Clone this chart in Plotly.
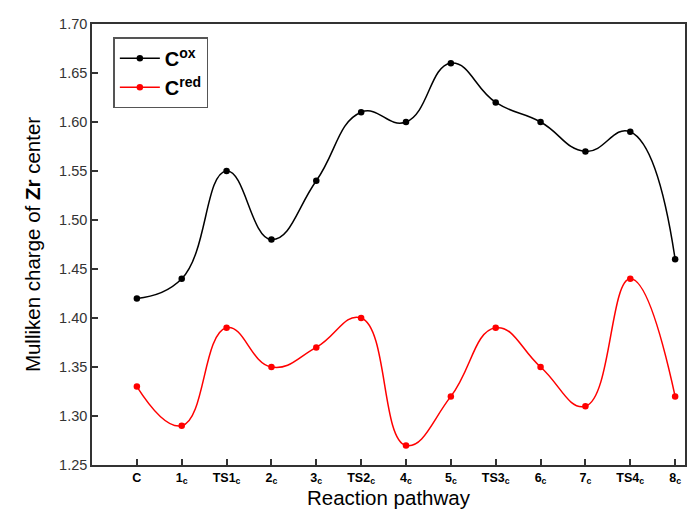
import plotly.graph_objects as go

categories = ["C", "1<sub>c</sub>", "TS1<sub>c</sub>", "2<sub>c</sub>", "3<sub>c</sub>", "TS2<sub>c</sub>",
              "4<sub>c</sub>", "5<sub>c</sub>", "TS3<sub>c</sub>", "6<sub>c</sub>", "7<sub>c</sub>",
              "TS4<sub>c</sub>", "8<sub>c</sub>"]
positions = list(range(1, len(categories) + 1))
c_ox = [1.42, 1.44, 1.55, 1.48, 1.54, 1.61, 1.60, 1.66, 1.62, 1.60, 1.57, 1.59, 1.46]
c_red = [1.33, 1.29, 1.39, 1.35, 1.37, 1.40, 1.27, 1.32, 1.39, 1.35, 1.31, 1.44, 1.32]
y_ticks = [1.25, 1.30, 1.35, 1.40, 1.45, 1.50, 1.55, 1.60, 1.65, 1.70]

fig = go.Figure()
fig.add_trace(go.Scatter(
    x=positions, y=c_ox, mode="lines+markers", name="<b>C<sup>ox</sup></b>",
    line=dict(color="black", width=1.5, shape="spline", smoothing=1.3),
    marker=dict(color="black", size=6.5),
))
fig.add_trace(go.Scatter(
    x=positions, y=c_red, mode="lines+markers", name="<b>C<sup>red</sup></b>",
    line=dict(color="#ff0000", width=1.5, shape="spline", smoothing=1.3),
    marker=dict(color="#ff0000", size=6.5),
))

font_family = "Liberation Sans, Arial, sans-serif"
fig.update_layout(
    width=688, height=510,
    margin=dict(l=92, r=1, t=24, b=45),
    paper_bgcolor="white", plot_bgcolor="white",
    font=dict(family=font_family, color="black"),
    showlegend=True,
    legend=dict(
        x=0.036, y=0.97, xanchor="left", yanchor="top",
        bordercolor="#555555", borderwidth=1.5, bgcolor="white",
        font=dict(size=20, family=font_family),
        itemwidth=40, tracegroupgap=6,
    ),
    xaxis=dict(
        range=[0, 13.22], tickmode="array", tickvals=positions,
        ticktext=["<b>" + c + "</b>" for c in categories],
        ticks="inside", ticklen=6, tickwidth=1.5, tickcolor="#333333",
        showline=True, linecolor="#333333", linewidth=1.5, mirror=True,
        showgrid=False, zeroline=False,
        tickfont=dict(size=12.5, family=font_family),
        title=dict(text="Reaction pathway", font=dict(size=20.5), standoff=2),
    ),
    yaxis=dict(
        range=[1.25, 1.70], tickmode="array", tickvals=y_ticks,
        ticktext=["%.2f" % v for v in y_ticks],
        ticks="inside", ticklen=6, tickwidth=1.5, tickcolor="#333333",
        showline=True, linecolor="#333333", linewidth=1.5, mirror=True,
        showgrid=False, zeroline=False,
        tickfont=dict(size=14.5, family=font_family, color="#333333"),
        title=dict(text="Mulliken charge of <b>Zr</b> center", font=dict(size=20.5), standoff=13),
    ),
)

fig.write_html("out.html")
